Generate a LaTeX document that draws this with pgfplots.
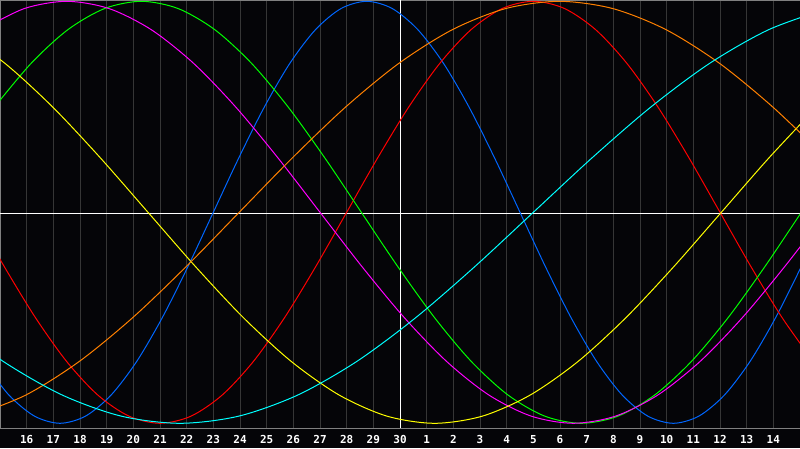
\documentclass[border=0pt]{standalone}
\usepackage{pgfplots}
\pgfplotsset{compat=1.18}
\usepackage{fontspec}
\setmonofont{DejaVu Sans Mono}
\definecolor{bg}{HTML}{050508}
\definecolor{framegray}{HTML}{808080}
\definecolor{gridgray}{HTML}{363636}
\definecolor{cblue}{HTML}{0066FF}
\definecolor{cred}{HTML}{FF0000}
\definecolor{cgreen}{HTML}{00FF00}
\definecolor{cmagenta}{HTML}{FF00FF}
\definecolor{cyellow}{HTML}{FFFF00}
\definecolor{corange}{HTML}{FF8000}
\definecolor{ccyan}{HTML}{00FFFF}
\begin{document}
\begin{tikzpicture}[x=1pt,y=1pt]
\fill[bg] (0,-20) rectangle (800,428);
\begin{axis}[
  at={(0,0)}, anchor=south west,
  scale only axis, width=800pt, height=428pt,
  xmin=0, xmax=30, ymin=-1.0223, ymax=1.0062,
  axis line style={draw=framegray, line width=1pt},
  xtick={1,2,3,4,5,6,7,8,9,10,11,12,13,14,15,16,17,18,19,20,21,22,23,24,25,26,27,28,29},
  xticklabels={16,17,18,19,20,21,22,23,24,25,26,27,28,29,30,1,2,3,4,5,6,7,8,9,10,11,12,13,14},
  ytick=\empty,
  major tick length=0pt,
  xmajorgrids,
  major grid style={draw=gridgray, line width=1pt},
  xticklabel style={font=\ttfamily\bfseries\fontsize{11}{12}\selectfont, text=white, anchor=base, yshift=-15pt},
  every axis plot/.append style={line width=1pt, smooth, no marks},
  clip=true,
]
\draw[white, line width=1pt] (axis cs:15,-1.0223) -- (axis cs:15,1.0062);
\draw[white, line width=1pt] (axis cs:0,-0.005) -- (axis cs:30,-0.005);
% blue P=23
\addplot[cblue] coordinates {(-0.625,-0.7071)(0.333,-0.8660)(1.292,-0.9659)(2.25,-1)(3.208,-0.9659)(4.167,-0.8660)(5.125,-0.7071)(6.083,-0.5)(7.042,-0.2588)(8.0,0)(8.958,0.2588)(9.917,0.5)(10.875,0.7071)(11.833,0.8660)(12.792,0.9659)(13.75,1)(14.708,0.9659)(15.667,0.8660)(16.625,0.7071)(17.583,0.5)(18.542,0.2588)(19.5,0)(20.458,-0.2588)(21.417,-0.5)(22.375,-0.7071)(23.333,-0.8660)(24.292,-0.9659)(25.25,-1)(26.208,-0.9659)(27.167,-0.8660)(28.125,-0.7071)(29.083,-0.5)(30.042,-0.2588)(31.0,0)};
% red P=28
\addplot[cred] coordinates {(-1.0,0)(0.167,-0.2588)(1.333,-0.5)(2.5,-0.7071)(3.667,-0.8660)(4.833,-0.9659)(6.0,-1)(7.167,-0.9659)(8.333,-0.8660)(9.5,-0.7071)(10.667,-0.5)(11.833,-0.2588)(13.0,0)(14.167,0.2588)(15.333,0.5)(16.5,0.7071)(17.667,0.8660)(18.833,0.9659)(20.0,1)(21.167,0.9659)(22.333,0.8660)(23.5,0.7071)(24.667,0.5)(25.833,0.2588)(27.0,0)(28.167,-0.2588)(29.333,-0.5)(30.5,-0.7071)};
% green P=33
\addplot[cgreen] coordinates {(-0.2,0.5)(1.175,0.7071)(2.55,0.8660)(3.925,0.9659)(5.3,1)(6.675,0.9659)(8.05,0.8660)(9.425,0.7071)(10.8,0.5)(12.175,0.2588)(13.55,0)(14.925,-0.2588)(16.3,-0.5)(17.675,-0.7071)(19.05,-0.8660)(20.425,-0.9659)(21.8,-1)(23.175,-0.9659)(24.55,-0.8660)(25.925,-0.7071)(27.3,-0.5)(28.675,-0.2588)(30.05,0)(31.425,0.2588)};
% magenta P=38
\addplot[cmagenta] coordinates {(-0.667,0.8660)(0.917,0.9659)(2.5,1)(4.083,0.9659)(5.667,0.8660)(7.25,0.7071)(8.833,0.5)(10.417,0.2588)(12.0,0)(13.583,-0.2588)(15.167,-0.5)(16.75,-0.7071)(18.333,-0.8660)(19.917,-0.9659)(21.5,-1)(23.083,-0.9659)(24.667,-0.8660)(26.25,-0.7071)(27.833,-0.5)(29.417,-0.2588)(31.0,0)};
% yellow P=43
\addplot[cyellow] coordinates {(-1.617,0.8660)(0.175,0.7071)(1.967,0.5)(3.758,0.2588)(5.55,0)(7.342,-0.2588)(9.133,-0.5)(10.925,-0.7071)(12.717,-0.8660)(14.508,-0.9659)(16.3,-1)(18.092,-0.9659)(19.883,-0.8660)(21.675,-0.7071)(23.467,-0.5)(25.258,-0.2588)(27.05,0)(28.842,0.2588)(30.633,0.5)};
% orange P=48
\addplot[corange] coordinates {(-1.03,-0.9659)(0.97,-0.8660)(2.97,-0.7071)(4.97,-0.5)(6.97,-0.2588)(8.97,0)(10.97,0.2588)(12.97,0.5)(14.97,0.7071)(16.97,0.8660)(18.97,0.9659)(20.97,1)(22.97,0.9659)(24.97,0.8660)(26.97,0.7071)(28.97,0.5)(30.97,0.2588)};
% cyan P=53
\addplot[ccyan] coordinates {(-2.083,-0.5)(0.125,-0.7071)(2.333,-0.8660)(4.542,-0.9659)(6.75,-1)(8.958,-0.9659)(11.167,-0.8660)(13.375,-0.7071)(15.583,-0.5)(17.792,-0.2588)(20.0,0)(22.208,0.2588)(24.417,0.5)(26.625,0.7071)(28.833,0.8660)(31.042,0.9659)};
\end{axis}
\pgfresetboundingbox
\useasboundingbox (0,-20) rectangle (800,428);
\end{tikzpicture}
\end{document}
